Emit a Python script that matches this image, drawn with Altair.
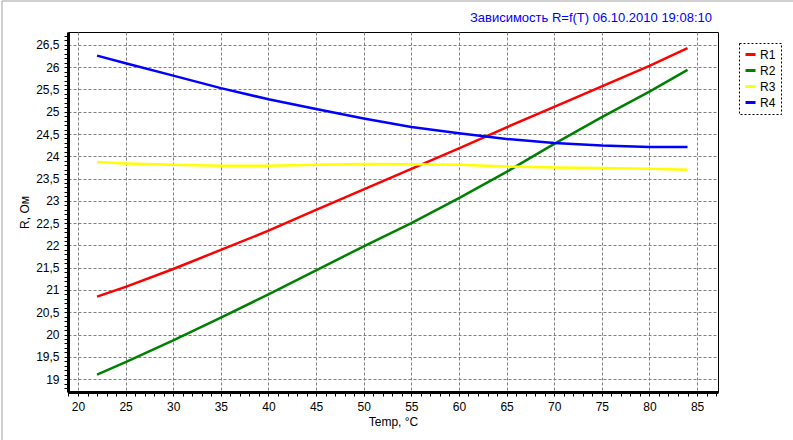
import altair as alt
import pandas as pd

# ---- data ----
temps = [22, 25, 30, 35, 40, 45, 50, 55, 60, 65, 70, 75, 80, 84]
r1 = [20.85, 21.07, 21.47, 21.90, 22.33, 22.80, 23.26, 23.72, 24.18, 24.65, 25.11, 25.57, 26.03, 26.43]
r2 = [19.10, 19.38, 19.87, 20.38, 20.90, 21.44, 21.98, 22.50, 23.06, 23.65, 24.28, 24.88, 25.45, 25.94]
r3 = [23.87, 23.84, 23.81, 23.79, 23.79, 23.81, 23.83, 23.82, 23.81, 23.77, 23.75, 23.74, 23.72, 23.70]
r4 = [26.26, 26.09, 25.81, 25.53, 25.28, 25.06, 24.85, 24.66, 24.52, 24.39, 24.30, 24.24, 24.21, 24.21]
series = ["R1", "R2", "R3", "R4"]
colors = ["#ff0000", "#008000", "#ffff00", "#0000ff"]

x_ticks = list(range(19, 88))
y_ticks = [round(18.8 + 0.1 * i, 1) for i in range(80)]

title_text = "Зависимость R=f(T)  06.10.2010 19:08:10"

rows = []
for name, vals in zip(series, [r1, r2, r3, r4]):
    for t, v in zip(temps, vals):
        rows.append({"T": t, "R": v, "series": name})
df = pd.DataFrame(rows)

FONT = "Liberation Sans"

x_major = "datum.value % 5 === 0"
y_major = "abs(datum.value * 2 - round(datum.value * 2)) < 0.001"

lines = alt.Chart(df).mark_line(strokeWidth=2.5, clip=True).encode(
    x=alt.X(
        "T:Q",
        scale=alt.Scale(domain=[18.95, 87.2], nice=False, zero=False),
        axis=alt.Axis(
            values=x_ticks,
            title="Temp, °C",
            labelExpr=f"{x_major} ? datum.label : ''",
            labelOverlap=False,
            labelFlush=False,
            gridOpacity={"condition": {"test": x_major, "value": 1}, "value": 0},
            labelPadding=5,
            titlePadding=4,
        ),
    ),
    y=alt.Y(
        "R:Q",
        scale=alt.Scale(domain=[18.71, 26.79], nice=False, zero=False),
        axis=alt.Axis(
            values=y_ticks,
            title="R, Ом",
            labelExpr=f"{y_major} ? replace(format(datum.value, '.1~f'), '.', ',') : ''",
            labelOverlap=False,
            labelFlush=False,
            gridOpacity={"condition": {"test": y_major, "value": 1}, "value": 0},
            labelPadding=5,
            titlePadding=4,
        ),
    ),
    color=alt.Color(
        "series:N",
        scale=alt.Scale(domain=series, range=colors),
        legend=alt.Legend(
            title=None,
            orient="none",
            legendX=671,
            legendY=11,
            symbolType="stroke",
            symbolStrokeWidth=3,
            symbolSize=100,
            labelFontSize=12,
            labelFont=FONT,
            labelColor="#000000",
            labelOffset=3,
            rowPadding=3,
            padding=5,
            fillColor="#ffffff",
            strokeColor="#000000",
        ),
    ),
)

frame = alt.Chart(pd.DataFrame({"a": [0]})).mark_rect(
    fillOpacity=0, stroke="#a0a0a0", strokeWidth=1
).encode(
    x=alt.value(-66), x2=alt.value(760), y=alt.value(-31), y2=alt.value(430)
)

chart = (
    alt.layer(frame, lines)
    .properties(
        width=650,
        height=360,
        autosize=alt.AutoSizeParams(type="none"),
        padding={"left": 68, "top": 32, "right": 75, "bottom": 48},
        title=alt.TitleParams(
            title_text,
            anchor="end",
            frame="group",
            color="#0000ff",
            fontSize=13,
            font=FONT,
            fontWeight="normal",
            baseline="alphabetic",
            offset=-34,
            dx=-6,
        ),
        background="#ffffff",
    )
    .configure_view(stroke="#000000", strokeWidth=1)
    .configure_axis(
        gridColor="#808080",
        gridDash=[3, 2],
        gridWidth=1,
        domainColor="#000000",
        domainWidth=3,
        tickColor="#000000",
        tickSize=4,
        tickWidth=1,
        labelFont=FONT,
        labelFontSize=12,
        labelColor="#000000",
        titleFont=FONT,
        titleFontSize=12,
        titleFontWeight="normal",
        titleColor="#000000",
    )
    .configure_legend(strokeDash=[2, 2], strokeWidth=1)
)

chart.save("out.html", embed_options={"renderer": "svg", "actions": False})
